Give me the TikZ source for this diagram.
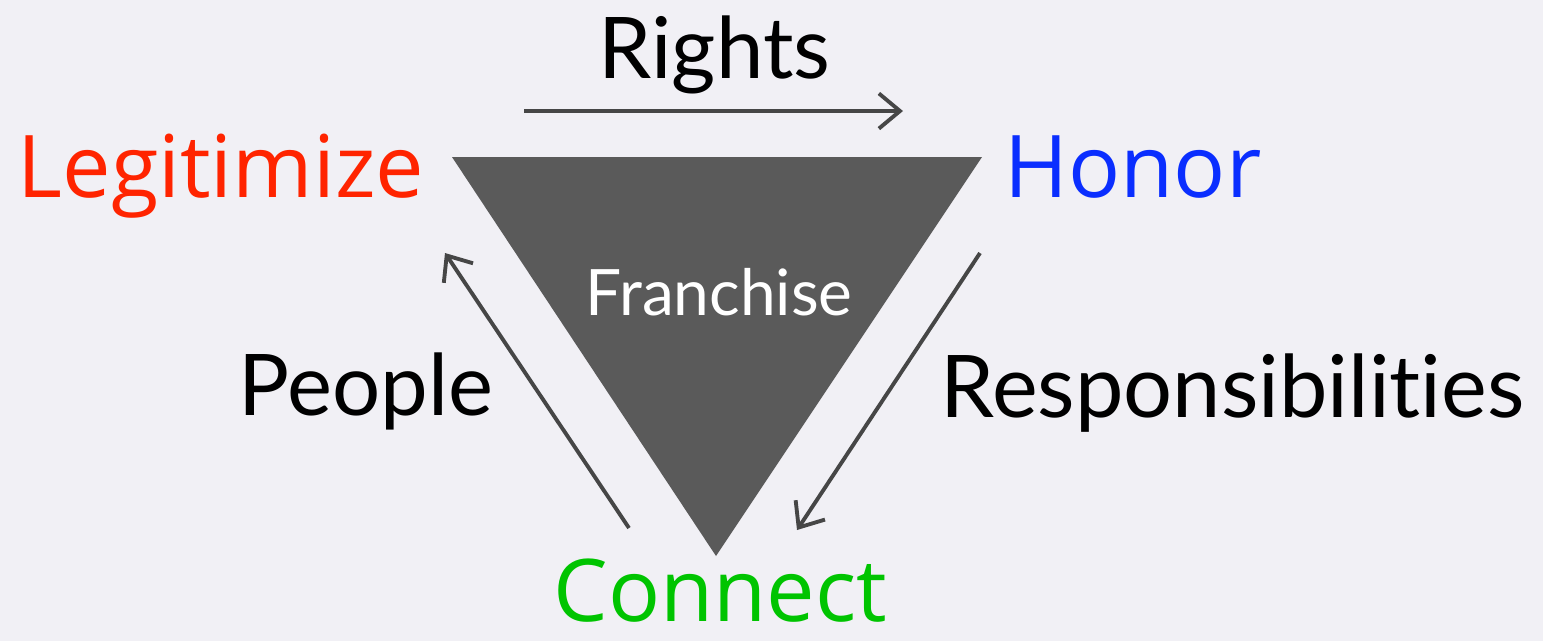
\documentclass[tikz,border=0pt]{standalone}
\usepackage{fontspec}
\setmainfont{Lato}[Ligatures=NoCommon]
\newfontfamily\keyfont{Open Sans}
\usetikzlibrary{arrows.meta}
\definecolor{bgcol}{HTML}{F1F0F5}
\definecolor{tricol}{HTML}{5A5A5A}
\definecolor{arrcol}{HTML}{464646}
\definecolor{legcol}{HTML}{FF2400}
\definecolor{honcol}{HTML}{0A2EFF}
\definecolor{concol}{HTML}{00C400}

\begin{document}
\begin{tikzpicture}[x=0.01cm, y=-0.01cm,
  key/.style={anchor=base west, inner sep=0pt, font=\keyfont\fontsize{24.6pt}{30pt}\selectfont},
  lbl/.style={anchor=base west, inner sep=0pt, font=\fontsize{24.2pt}{30pt}\selectfont},
  flow/.style={draw=arrcol, line width=1.1pt, -{Straight Barb[length=6pt, width=10pt, line width=1.1pt]}}]
\fill[bgcol] (0,0) rectangle (1543,641);
\useasboundingbox (0,0) rectangle (1543,641);

% triangle
\coordinate (t1) at (452,157);
\coordinate (t2) at (982,157);
\coordinate (t3) at (716,556);
\fill[tricol] (t1) -- (t2) -- (t3) -- cycle;
\node[anchor=base west, inner sep=0pt, text=white, font=\fontsize{18.2pt}{22pt}\selectfont] (fr) at (585,315) {Franchise};

% corners
\node[key, text=legcol] (leg) at (17,197) {Legitimize};
\node[key, text=honcol] (hon) at (1004,197) {Honor};
\node[key, text=concol] (con) at (553,621) {Connect};

% sides
\node[lbl] (ri) at (598,78) {Rights};
\node[lbl] (pe) at (238,415) {People};
\node[lbl, font=\fontsize{24.6pt}{30pt}\selectfont] (re) at (940,417) {Responsibilities};

% arrows
\coordinate (a1) at (524,111);
\coordinate (a2) at (903,111);
\coordinate (b1) at (980,253);
\coordinate (b2) at (797,530);
\coordinate (c1) at (629,528);
\coordinate (c2) at (445,253);
\draw[flow] (a1) -- (a2);
\draw[flow] (b1) -- (b2);
\draw[flow] (c1) -- (c2);

\end{tikzpicture}
\end{document}
